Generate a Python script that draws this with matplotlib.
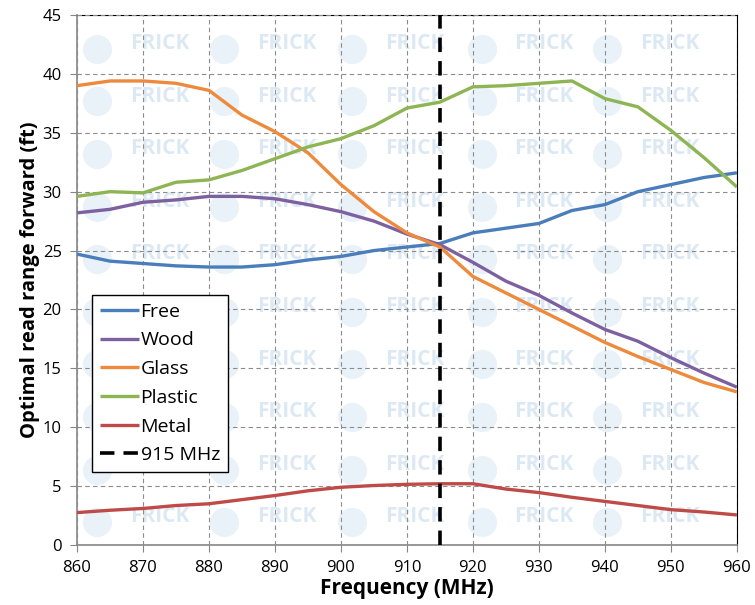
import matplotlib.pyplot as plt
import numpy as np

plt.rcParams.update({
    'font.family': ['Open Sans', 'DejaVu Sans'],
    'axes.edgecolor': '#868686',
})

# data (every 5 MHz)
freq = np.arange(860, 961, 5)
free = [24.7, 24.1, 23.9, 23.7, 23.6, 23.6, 23.8, 24.2, 24.5, 25.0, 25.3,
        25.6, 26.5, 26.9, 27.3, 28.4, 28.9, 30.0, 30.6, 31.2, 31.6]
wood = [28.2, 28.5, 29.1, 29.3, 29.6, 29.6, 29.4, 28.9, 28.3, 27.5, 26.4,
        25.5, 24.0, 22.4, 21.2, 19.7, 18.3, 17.3, 15.9, 14.6, 13.4]
glass = [39.0, 39.4, 39.4, 39.2, 38.6, 36.5, 35.1, 33.3, 30.6, 28.3, 26.5,
         25.3, 22.8, 21.4, 20.0, 18.6, 17.2, 16.0, 14.9, 13.8, 13.0]
plastic = [29.6, 30.0, 29.9, 30.8, 31.0, 31.8, 32.8, 33.8, 34.5, 35.6, 37.1,
           37.6, 38.9, 39.0, 39.2, 39.4, 37.9, 37.2, 35.2, 32.9, 30.4]
metal = [2.75, 2.95, 3.1, 3.35, 3.5, 3.85, 4.2, 4.6, 4.9, 5.05, 5.15,
         5.2, 5.2, 4.75, 4.45, 4.05, 3.7, 3.35, 3.0, 2.8, 2.55]
marker_freq = 915

series = [
    ('Free', free, '#4A7EBB'),
    ('Wood', wood, '#7D60A0'),
    ('Glass', glass, '#EE8A3C'),
    ('Plastic', plastic, '#8DB553'),
    ('Metal', metal, '#BE4B48'),
]

fig = plt.figure(figsize=(7.55, 6.05), dpi=100)
ax = fig.add_axes([0.102, 0.0992, 0.874, 0.876])

# faint watermark tiles (skip the legend area and the cut-off column)
for cx in [0.125, 0.318, 0.512, 0.708, 0.898]:
    for k in range(10):
        cy = 0.946 - k * 0.0992
        ax.plot(cx - 0.095, cy - 0.01, 'o', transform=ax.transAxes,
                markersize=20, color='#EAF2F9', zorder=0, clip_on=True)
        if cx < 0.3 and 0.1 < cy < 0.5:
            continue
        ax.text(cx, cy, 'FRICK', transform=ax.transAxes, fontsize=15,
                fontweight='bold', color='#DCE9F4', ha='center', va='center',
                zorder=0)

for name, vals, col in series:
    ax.plot(freq, vals, color=col, linewidth=2.4, label=name, zorder=3,
            solid_capstyle='butt')

ax.axvline(marker_freq, color='black', linewidth=2.6, linestyle=(0, (4, 2.5)),
           label='915 MHz', zorder=4)

ax.set_xlim(860, 960)
ax.set_ylim(0, 45)
ax.set_xticks(np.arange(860, 961, 10))
ax.set_yticks(np.arange(0, 46, 5))
ax.tick_params(axis='both', labelsize=12, direction='out', length=5,
               color='#868686', pad=6)
ax.grid(True, linestyle=(0, (4, 3)), linewidth=0.8, color='#8C8C8C', zorder=1)
ax.set_axisbelow(False)
for s in ['top', 'right']:
    ax.spines[s].set_color('#000000')
    ax.spines[s].set_linewidth(0.8)
for s in ['left', 'bottom']:
    ax.spines[s].set_linewidth(1.2)

ax.set_xlabel('Frequency (MHz)', fontsize=15, fontweight='bold', labelpad=1)
ax.set_ylabel('Optimal read range forward (ft)', fontsize=14.5,
              fontweight='bold', labelpad=2)

leg = ax.legend(loc='upper left', bbox_to_anchor=(0.0227, 0.4717),
                fontsize=14, frameon=True, fancybox=False, edgecolor='black',
                handlelength=2.0, handletextpad=0.1, borderpad=0.4,
                labelspacing=0.55, borderaxespad=0, framealpha=1)
leg.get_frame().set_linewidth(1.0)
leg.set_zorder(6)

fig.savefig('out.png', dpi=100)
